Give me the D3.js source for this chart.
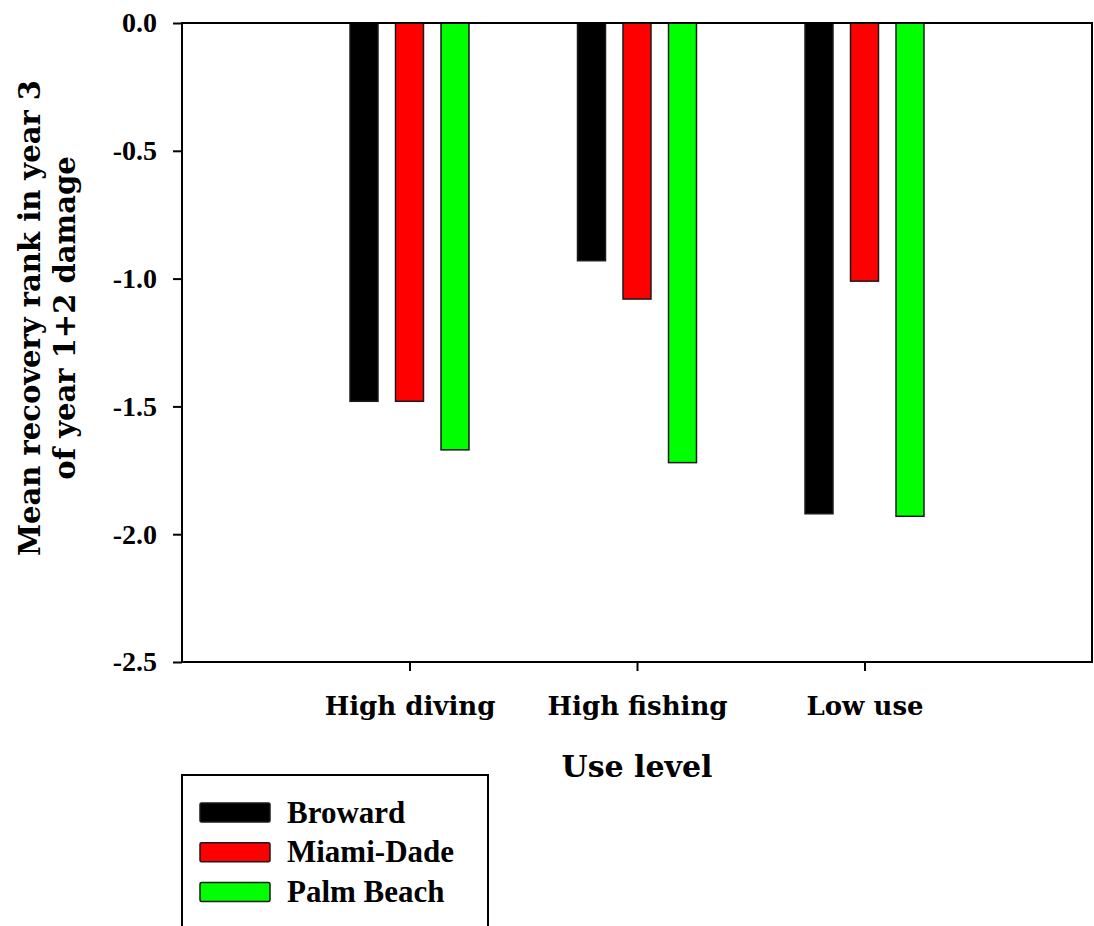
<!DOCTYPE html>
<html>
<head>
<meta charset="utf-8">
<script src="https://cdn.jsdelivr.net/npm/d3@7"></script>
<style>
  html, body { margin: 0; padding: 0; background: #fff; }
  svg { display: block; }
</style>
</head>
<body>
<svg id="chart" width="1094" height="926"></svg>
<script>
// ---- data ----
const categories = ["High diving", "High fishing", "Low use"];
const seriesNames = ["Broward", "Miami-Dade", "Palm Beach"];
const broward   = [-1.48, -0.93, -1.92];
const miamiDade = [-1.48, -1.08, -1.01];
const palmBeach = [-1.67, -1.72, -1.93];
const yTicks = [0, -0.5, -1.0, -1.5, -2.0, -2.5];
const seriesColors = ["#000000", "#ff0000", "#00ff00"];
const yTitleLines = ["Mean recovery rank in year 3", "of year 1+2 damage"];
const xTitle = "Use level";

const seriesValues = [broward, miamiDade, palmBeach];

// ---- layout ----
const svg = d3.select("#chart");
const plot = { left: 182, right: 1092, top: 23, bottom: 662 };
const step = (plot.right - plot.left) / 4;

const y = d3.scaleLinear().domain([-2.5, 0]).range([plot.bottom, plot.top]);
const x0 = d3.scalePoint().domain(categories)
  .range([plot.left + step, plot.right - step]).padding(0);
const x1 = d3.scaleBand().domain(seriesNames)
  .range([-68.25, 68.25]).paddingInner(0.385).paddingOuter(0.1925);
const color = d3.scaleOrdinal().domain(seriesNames).range(seriesColors);

const serif = "'Liberation Serif', 'Times New Roman', serif";
const wide = "'DejaVu Serif', serif";

// bars
const rows = [];
seriesNames.forEach((s, si) => {
  categories.forEach((c, ci) => rows.push({ s, c, v: seriesValues[si][ci] }));
});

svg.append("g").selectAll("rect").data(rows).join("rect")
  .attr("x", d => x0(d.c) + x1(d.s))
  .attr("width", x1.bandwidth())
  .attr("y", y(0))
  .attr("height", d => y(d.v) - y(0))
  .attr("fill", d => color(d.s))
  .attr("stroke", "#1a1a1a")
  .attr("stroke-width", 1.5);

// frame
svg.append("rect")
  .attr("x", plot.left).attr("y", plot.top)
  .attr("width", plot.right - plot.left).attr("height", plot.bottom - plot.top)
  .attr("fill", "none").attr("stroke", "#000").attr("stroke-width", 2);

// y axis
const yAxis = svg.append("g").attr("transform", `translate(${plot.left},0)`)
  .call(d3.axisLeft(y).tickValues(yTicks).tickSize(9).tickSizeOuter(0).tickPadding(16)
    .tickFormat(d => d.toFixed(1)));
yAxis.select(".domain").remove();
yAxis.selectAll(".tick line").attr("stroke", "#000").attr("stroke-width", 2);
yAxis.selectAll(".tick text")
  .attr("font-family", serif).attr("font-weight", "bold").attr("font-size", 28).attr("fill", "#000");

// x axis
const xAxis = svg.append("g").attr("transform", `translate(0,${plot.bottom})`)
  .call(d3.axisBottom(x0).tickSize(9).tickSizeOuter(0).tickPadding(26));
xAxis.select(".domain").remove();
xAxis.selectAll(".tick line").attr("stroke", "#000").attr("stroke-width", 2);
xAxis.selectAll(".tick text")
  .attr("font-family", wide).attr("font-weight", "bold").attr("font-size", 26).attr("fill", "#000");

// x title
svg.append("text")
  .attr("x", x0(categories[1])).attr("y", 777)
  .attr("text-anchor", "middle")
  .attr("font-family", wide).attr("font-weight", "bold").attr("font-size", 30)
  .text(xTitle);

// y title
const yt = svg.append("text")
  .attr("transform", "translate(0,318) rotate(-90)")
  .attr("text-anchor", "middle")
  .attr("font-family", wide).attr("font-weight", "bold").attr("font-size", 29);
yt.append("tspan").attr("x", 0).attr("y", 40).text(yTitleLines[0]);
yt.append("tspan").attr("x", 0).attr("y", 75).text(yTitleLines[1]);

// legend
const lg = svg.append("g");
lg.append("rect")
  .attr("x", 182).attr("y", 775).attr("width", 306).attr("height", 200)
  .attr("fill", "#fff").attr("stroke", "#000").attr("stroke-width", 2);
const items = lg.selectAll("g.item").data(seriesNames).join("g")
  .attr("class", "item")
  .attr("transform", (d, i) => `translate(0,${812.5 + i * 39.7})`);
items.append("rect")
  .attr("x", 200).attr("y", -9.5).attr("width", 70).attr("height", 19)
  .attr("rx", 1.5)
  .attr("fill", d => color(d)).attr("stroke", "#1a1a1a").attr("stroke-width", 1.5);
items.append("text")
  .attr("x", 287).attr("y", 10)
  .attr("font-family", serif).attr("font-weight", "bold").attr("font-size", 31)
  .attr("fill", "#000")
  .text(d => d);
</script>
</body>
</html>
